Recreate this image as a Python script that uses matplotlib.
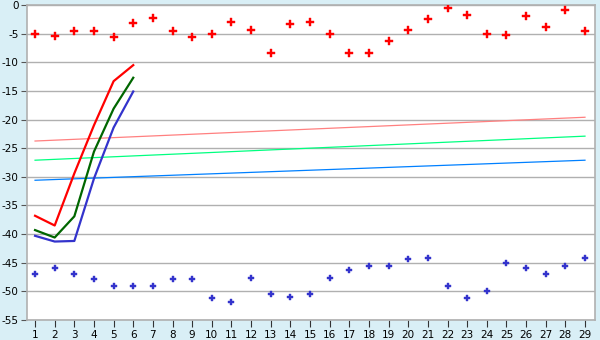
import matplotlib
matplotlib.use("Agg")
import matplotlib.pyplot as plt

plt.rcParams['axes.unicode_minus'] = False
plt.rcParams['font.family'] = ['DejaVu Sans']

categories = list(range(1, 30))

red_points = [-5.1, -5.4, -4.5, -4.5, -5.6, -3.2, -2.3, -4.5, -5.6, -5.1,
              -3.0, -4.4, -8.3, -3.4, -3.0, -5.1, -8.3, -8.4, -6.2, -4.3,
              -2.5, -0.6, -1.8, -5.1, -5.3, -2.0, -3.9, -0.9, -4.6]
blue_points = [-46.9, -46.0, -47.0, -47.9, -49.0, -49.0, -49.0, -47.9, -47.9, -51.1,
               -51.9, -47.6, -50.4, -50.9, -50.5, -47.7, -46.3, -45.6, -45.6, -44.4,
               -44.1, -49.0, -51.1, -50.0, -45.0, -46.0, -47.0, -45.6, -44.2]

line_x = [1, 2, 3, 4, 5, 6]
red_line = [-36.8, -38.5, -29.4, -21.0, -13.3, -10.5]
green_line = [-39.3, -40.6, -36.9, -25.6, -18.1, -12.7]
blue_line = [-40.3, -41.3, -41.2, -30.3, -21.4, -15.1]

trend_x = [1, 29]
red_trend = [-23.75, -19.6]
green_trend = [-27.1, -22.9]
blue_trend = [-30.6, -27.1]

yticks = list(range(0, -60, -5))

bg = '#d9eff6'
grid = '#b0b0b0'

fig = plt.figure(figsize=(6, 3.4), dpi=100, facecolor=bg)
ax = fig.add_axes([27/600, 1-320/340, (595-27)/600, (320-5)/340])
ax.set_facecolor('white')

ax.plot(trend_x, red_trend, color='#ff8080', lw=0.9, zorder=2)
ax.plot(trend_x, green_trend, color='#00ff80', lw=0.9, zorder=2)
ax.plot(trend_x, blue_trend, color='#0080ff', lw=0.9, zorder=2)

ax.plot(line_x, red_line, color='#ff0000', lw=1.6, zorder=3)
ax.plot(line_x, green_line, color='#006600', lw=1.6, zorder=3)
ax.plot(line_x, blue_line, color='#3333cc', lw=1.6, zorder=3)

ax.plot(categories, red_points, linestyle='none', marker='P', ms=5.5,
        color='#ff0000', mec='#ff0000', mew=0.3, zorder=4)
ax.plot(categories, blue_points, linestyle='none', marker='P', ms=4.5,
        color='#3333cc', mec='#3333cc', mew=0.3, zorder=4)

ax.set_xlim(0.59, 29.51)
ax.set_ylim(-55, 0)
ax.set_xticks(categories)
ax.set_xticklabels([str(c) for c in categories])
ax.set_yticks(yticks)
ax.set_yticklabels([str(t) for t in yticks])

ax.yaxis.grid(True, color=grid, lw=1.0, zorder=1)
ax.set_axisbelow(True)
for s in ax.spines.values():
    s.set_color(grid)
    s.set_linewidth(1.2)
ax.tick_params(axis='both', colors='black', labelsize=7.5, length=4,
               width=1, direction='out', pad=2)
ax.tick_params(axis='x', color='#333333', length=5, width=0.8)
ax.tick_params(axis='y', color='#555555', length=4, width=0.8)

fig.savefig('out.png', dpi=100, facecolor=bg)
